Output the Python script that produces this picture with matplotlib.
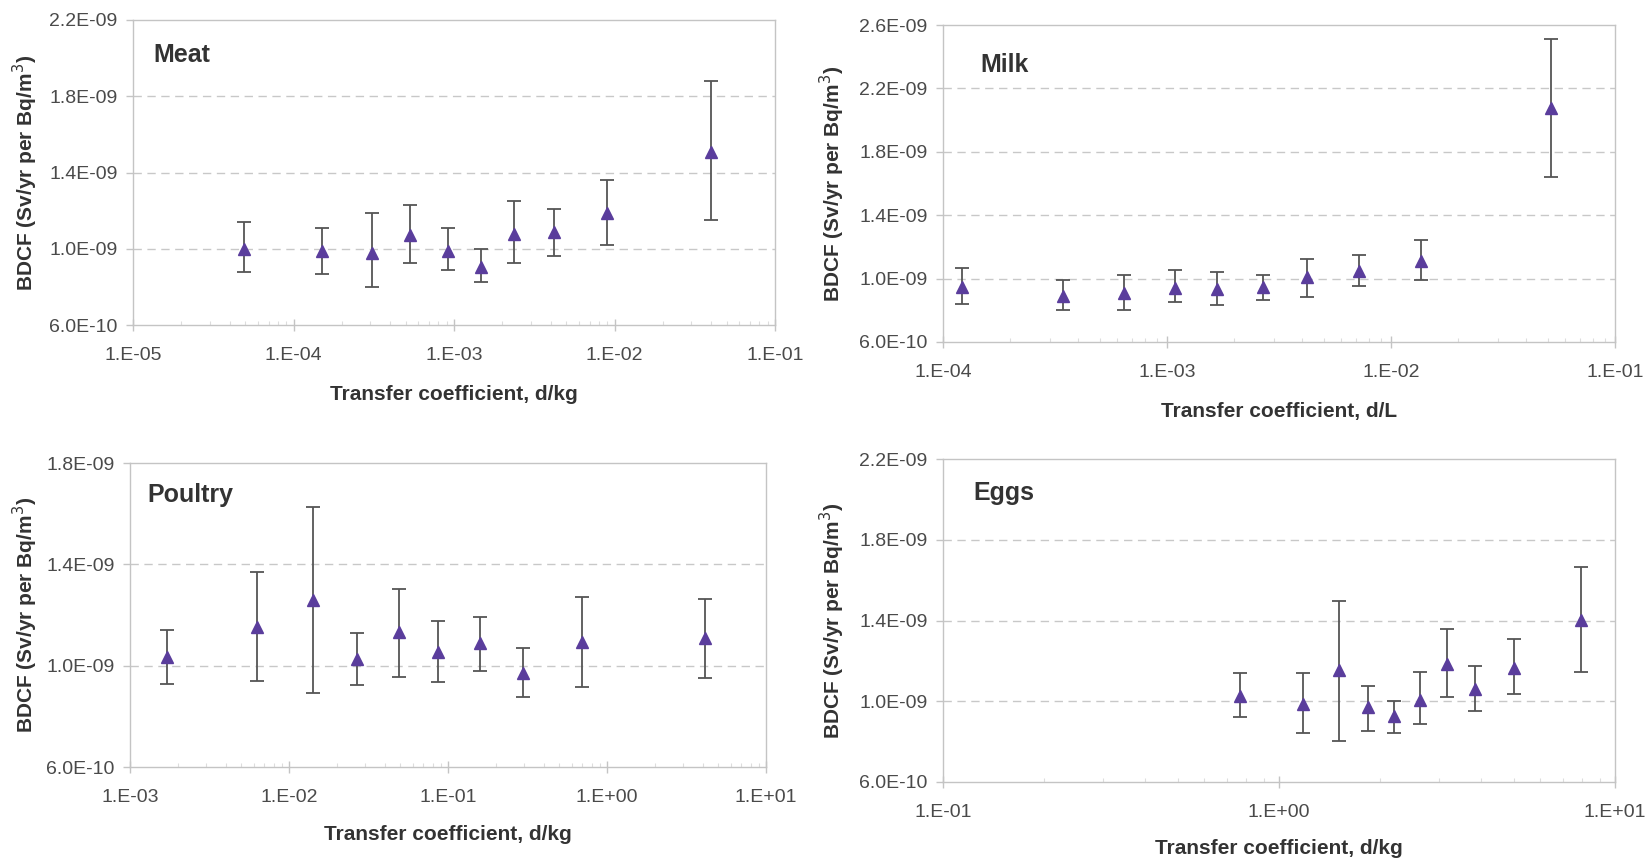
import matplotlib
matplotlib.use("Agg")
import matplotlib.pyplot as plt
from matplotlib.ticker import FixedLocator, FixedFormatter, LogLocator, NullFormatter
import numpy as np

plt.rcParams['font.family'] = ['Liberation Sans', 'DejaVu Sans']

SCALE = 1e-9  # BDCF values below are in units of 1E-09 Sv/yr per Bq/m3

# ---------------- data ----------------
meat_tc = [4.9e-5, 1.5e-4, 3.1e-4, 5.3e-4, 9.2e-4, 1.47e-3, 2.37e-3, 4.2e-3, 9.0e-3, 4.0e-2]
meat_mid = [1.00, 0.99, 0.98, 1.07, 0.99, 0.905, 1.08, 1.09, 1.19, 1.51]
meat_hi = [1.14, 1.11, 1.19, 1.23, 1.11, 1.00, 1.25, 1.21, 1.36, 1.88]
meat_lo = [0.88, 0.87, 0.80, 0.925, 0.89, 0.826, 0.925, 0.962, 1.02, 1.15]

milk_tc = [1.22e-4, 3.45e-4, 6.4e-4, 1.09e-3, 1.67e-3, 2.67e-3, 4.2e-3, 7.2e-3, 1.36e-2, 5.16e-2]
milk_mid = [0.947, 0.89, 0.909, 0.94, 0.934, 0.947, 1.01, 1.048, 1.111, 2.076]
milk_hi = [1.067, 0.991, 1.023, 1.054, 1.042, 1.023, 1.124, 1.149, 1.243, 2.51]
milk_lo = [0.84, 0.80, 0.80, 0.852, 0.833, 0.865, 0.884, 0.953, 0.991, 1.64]

poultry_tc = [1.71e-3, 6.3e-3, 1.42e-2, 2.68e-2, 4.9e-2, 8.65e-2, 1.59e-1, 2.97e-1, 6.97e-1, 4.13]
poultry_mid = [1.034, 1.153, 1.259, 1.026, 1.133, 1.054, 1.09, 0.971, 1.093, 1.109]
poultry_hi = [1.141, 1.37, 1.626, 1.129, 1.303, 1.176, 1.192, 1.07, 1.271, 1.263]
poultry_lo = [0.928, 0.94, 0.892, 0.924, 0.955, 0.936, 0.979, 0.876, 0.916, 0.951]

eggs_tc = [0.767, 1.18, 1.51, 1.84, 2.2, 2.63, 3.16, 3.84, 4.99, 7.91]
eggs_mid = [1.026, 0.986, 1.155, 0.971, 0.927, 1.006, 1.184, 1.061, 1.165, 1.402]
eggs_hi = [1.14, 1.14, 1.497, 1.075, 1.001, 1.145, 1.358, 1.175, 1.308, 1.665]
eggs_lo = [0.922, 0.843, 0.803, 0.852, 0.843, 0.887, 1.021, 0.952, 1.036, 1.145]

meat_yticks = [0.6, 1.0, 1.4, 1.8, 2.2]
milk_yticks = [0.6, 1.0, 1.4, 1.8, 2.2, 2.6]
poultry_yticks = [0.6, 1.0, 1.4, 1.8]
eggs_yticks = [0.6, 1.0, 1.4, 1.8, 2.2]

meat_xticks = [1e-5, 1e-4, 1e-3, 1e-2, 1e-1]
milk_xticks = [1e-4, 1e-3, 1e-2, 1e-1]
poultry_xticks = [1e-3, 1e-2, 1e-1, 1e0, 1e1]
eggs_xticks = [1e-1, 1e0, 1e1]

ylabel = "BDCF (Sv/yr per Bq/m$^3$)"

W, H = 1651, 867
fig = plt.figure(figsize=(W / 100, H / 100), dpi=100)
fig.patch.set_facecolor('white')


def px_axes(left, right, top, bottom):
    return fig.add_axes([left / W, (H - bottom) / H, (right - left) / W, (bottom - top) / H])


def xfmt(v):
    e = int(round(np.log10(v)))
    return "1.E%s%02d" % ("+" if e >= 0 else "-", abs(e))


def yfmt(v):
    s = "%.1E" % (v * SCALE)
    return s


panels = [
    dict(box=(133, 775, 20, 325), tc=meat_tc, mid=meat_mid, hi=meat_hi, lo=meat_lo,
         yt=meat_yticks, xt=meat_xticks, title="Meat", title_px=(153, 55),
         xlabel="Transfer coefficient, d/kg", xl_y=394, yl_x=25),
    dict(box=(943, 1615, 25, 342), tc=milk_tc, mid=milk_mid, hi=milk_hi, lo=milk_lo,
         yt=milk_yticks, xt=milk_xticks, title="Milk", title_px=(980, 65),
         xlabel="Transfer coefficient, d/L", xl_y=412, yl_x=832),
    dict(box=(130, 766, 463, 767), tc=poultry_tc, mid=poultry_mid, hi=poultry_hi, lo=poultry_lo,
         yt=poultry_yticks, xt=poultry_xticks, title="Poultry", title_px=(147, 495),
         xlabel="Transfer coefficient, d/kg", xl_y=835, yl_x=25),
    dict(box=(943, 1615, 459, 782), tc=eggs_tc, mid=eggs_mid, hi=eggs_hi, lo=eggs_lo,
         yt=eggs_yticks, xt=eggs_xticks, title="Eggs", title_px=(973, 493),
         xlabel="Transfer coefficient, d/kg", xl_y=849, yl_x=832),
]

marker_color = '#5a3d9c'
err_color = '#555555'
grid_color = '#c8c8c8'
spine_color = '#c4c4c4'
tick_color = '#4a4a4a'
label_color = '#333333'

for p in panels:
    l, r, t, b = p['box']
    ax = px_axes(l, r, t, b)
    tc = np.array(p['tc'])
    mid = np.array(p['mid']) * SCALE
    hi = np.array(p['hi']) * SCALE
    lo = np.array(p['lo']) * SCALE
    ax.errorbar(tc, mid, yerr=[mid - lo, hi - mid], fmt='none', ecolor=err_color,
                elinewidth=1.3, capsize=5, capthick=1.3, zorder=3)
    ax.plot(tc, mid, linestyle='none', marker='^', markersize=9, color=marker_color,
            markeredgecolor=marker_color, zorder=4)
    ax.set_xscale('log')
    ax.set_xlim(p['xt'][0], p['xt'][-1])
    yt = [v * SCALE for v in p['yt']]
    ax.set_ylim(yt[0], yt[-1])
    ax.yaxis.set_major_locator(FixedLocator(yt))
    ax.yaxis.set_major_formatter(FixedFormatter([yfmt(v) for v in p['yt']]))
    ax.xaxis.set_major_locator(FixedLocator(p['xt']))
    ax.xaxis.set_major_formatter(FixedFormatter([xfmt(v) for v in p['xt']]))
    ax.xaxis.set_minor_locator(LogLocator(base=10, subs=np.arange(2, 10)))
    ax.xaxis.set_minor_formatter(NullFormatter())
    for v in yt[1:-1]:
        ax.axhline(v, color=grid_color, lw=1.0, ls=(0, (6, 4)), zorder=1)
    for s in ax.spines.values():
        s.set_color(spine_color)
        s.set_linewidth(1.0)
    ax.tick_params(axis='y', which='major', direction='out', length=5, width=1,
                   color=spine_color, labelsize=14, labelcolor=tick_color, pad=6)
    ax.tick_params(axis='x', which='major', direction='inout', length=8, width=1,
                   color=spine_color, labelsize=14, labelcolor=tick_color, pad=12)
    ax.tick_params(axis='x', which='minor', direction='in', length=3, width=0.8,
                   color='#dddddd')
    ax.text((p['title_px'][0] - l) / (r - l), (b - p['title_px'][1]) / (b - t), p['title'],
            transform=ax.transAxes, fontsize=18, fontweight='bold', color=label_color,
            ha='left', va='center')
    fig.text(((l + r) / 2) / W, (H - p['xl_y']) / H, p['xlabel'], fontsize=15,
             fontweight='bold', color=label_color, ha='center', va='center')
    fig.text(p['yl_x'] / W, (H - (t + b) / 2) / H, ylabel, fontsize=15, fontweight='bold',
             color=label_color, ha='center', va='center', rotation=90)

fig.savefig('out.png', dpi=100, facecolor='white')
